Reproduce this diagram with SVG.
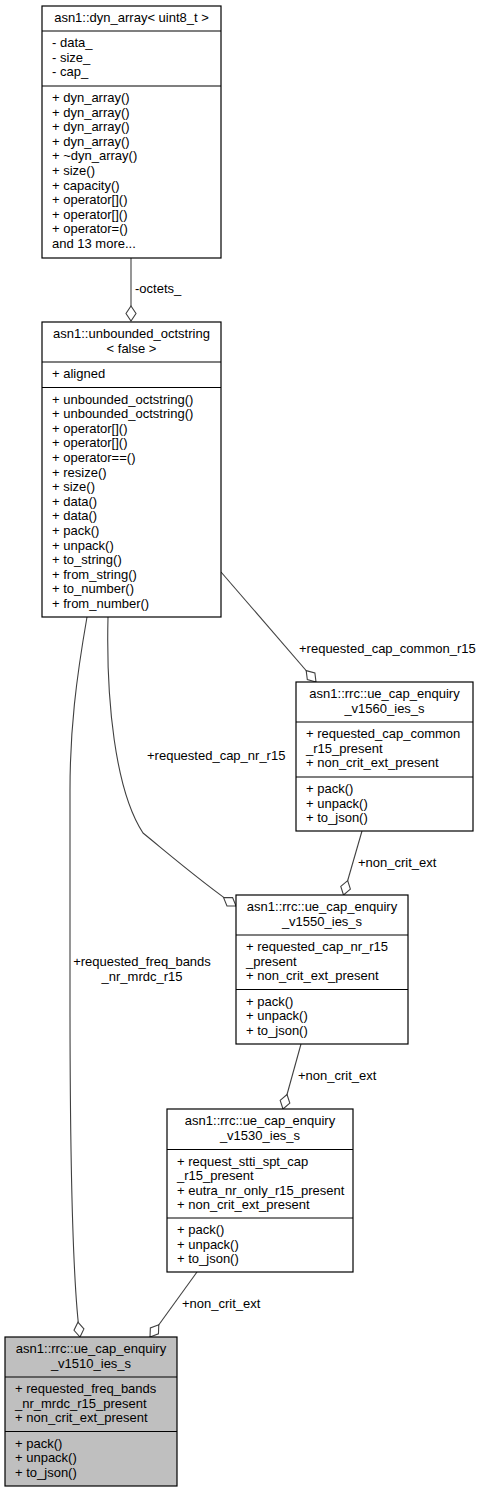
<svg xmlns="http://www.w3.org/2000/svg" width="481" height="1492" viewBox="0 0 481 1492">
<style>
text{font-family:"Liberation Sans",Arial,Helvetica,sans-serif;font-size:13px;fill:#000}
.c{text-anchor:middle}
.box{fill:#fff;stroke:#000;stroke-width:1.2}
.root{fill:#bfbfbf;stroke:#000;stroke-width:1.2}
.div{stroke:#000;stroke-width:1.2}
.edge{fill:none;stroke:#404040;stroke-width:1.1;marker-end:url(#od)}
</style>
<defs>
<marker id="od" markerUnits="userSpaceOnUse" viewBox="-1 -1 17 12" markerWidth="17" markerHeight="12" refX="15" refY="5" orient="auto" overflow="visible">
<path d="M0,5 L7.5,0 L15,5 L7.5,10 Z" fill="#fff" stroke="#404040" stroke-width="1.1"/>
</marker>
</defs>
<rect width="481" height="1492" fill="#fff"/>
<g id="connectors">
<path class="edge" d="M131,258 L131,321"/>
<text x="135" y="293">-octets_</text>
<path class="edge" d="M221,572 L316,682"/>
<text x="299" y="653">+requested_cap_common_r15</text>
<path class="edge" d="M108,617 C106,700 115,790 143,833 C170,855 205,885 236,906"/>
<text x="147" y="760">+requested_cap_nr_r15</text>
<path class="edge" d="M362,831 L343.5,895"/>
<text x="358" y="867">+non_crit_ext</text>
<path class="edge" d="M301,1044 L283,1109"/>
<text x="298" y="1080">+non_crit_ext</text>
<path class="edge" d="M197,1272 L150,1337"/>
<text x="182" y="1308">+non_crit_ext</text>
<path class="edge" d="M87,617 C76,680 70,730 70,790 L70,1000 C70,1150 72,1280 80,1337"/>
<text class="c" x="142" y="966">+requested_freq_bands</text>
<text class="c" x="142" y="981">_nr_mrdc_r15</text>
</g>
<g id="dyn_array">
<rect class="box" x="42" y="6" width="179" height="252"/>
<line class="div" x1="42" y1="31" x2="221" y2="31"/>
<line class="div" x1="42" y1="86" x2="221" y2="86"/>
<text class="c" x="131.5" y="22">asn1::dyn_array&lt; uint8_t &gt;</text>
<text x="52" y="47">- data_</text>
<text x="52" y="61.6">- size_</text>
<text x="52" y="76.2">- cap_</text>
<text x="52" y="102">+ dyn_array()</text>
<text x="52" y="116.6">+ dyn_array()</text>
<text x="52" y="131.2">+ dyn_array()</text>
<text x="52" y="145.8">+ dyn_array()</text>
<text x="52" y="160.4">+ ~dyn_array()</text>
<text x="52" y="175">+ size()</text>
<text x="52" y="189.6">+ capacity()</text>
<text x="52" y="204.2">+ operator[]()</text>
<text x="52" y="218.8">+ operator[]()</text>
<text x="52" y="233.4">+ operator=()</text>
<text x="52" y="248">and 13 more...</text>
</g>
<g id="unbounded_octstring">
<rect class="box" x="42" y="322" width="179" height="295"/>
<line class="div" x1="42" y1="362" x2="221" y2="362"/>
<line class="div" x1="42" y1="387.5" x2="221" y2="387.5"/>
<text class="c" x="131.5" y="338">asn1::unbounded_octstring</text>
<text class="c" x="131.5" y="352.6">&lt; false &gt;</text>
<text x="52" y="378">+ aligned</text>
<text x="52" y="403.5">+ unbounded_octstring()</text>
<text x="52" y="418.1">+ unbounded_octstring()</text>
<text x="52" y="432.7">+ operator[]()</text>
<text x="52" y="447.3">+ operator[]()</text>
<text x="52" y="461.9">+ operator==()</text>
<text x="52" y="476.5">+ resize()</text>
<text x="52" y="491.1">+ size()</text>
<text x="52" y="505.7">+ data()</text>
<text x="52" y="520.3">+ data()</text>
<text x="52" y="534.9">+ pack()</text>
<text x="52" y="549.5">+ unpack()</text>
<text x="52" y="564.1">+ to_string()</text>
<text x="52" y="578.7">+ from_string()</text>
<text x="52" y="593.3">+ to_number()</text>
<text x="52" y="607.9">+ from_number()</text>
</g>
<g id="v1560">
<rect class="box" x="296" y="682" width="177" height="149"/>
<line class="div" x1="296" y1="722" x2="473" y2="722"/>
<line class="div" x1="296" y1="777" x2="473" y2="777"/>
<text class="c" x="384.5" y="698">asn1::rrc::ue_cap_enquiry</text>
<text class="c" x="384.5" y="712.6">_v1560_ies_s</text>
<text x="306" y="738">+ requested_cap_common</text>
<text x="306" y="752.6">_r15_present</text>
<text x="306" y="767.2">+ non_crit_ext_present</text>
<text x="306" y="793">+ pack()</text>
<text x="306" y="807.6">+ unpack()</text>
<text x="306" y="822.2">+ to_json()</text>
</g>
<g id="v1550">
<rect class="box" x="236" y="895" width="172" height="149"/>
<line class="div" x1="236" y1="935" x2="408" y2="935"/>
<line class="div" x1="236" y1="989.5" x2="408" y2="989.5"/>
<text class="c" x="322" y="911">asn1::rrc::ue_cap_enquiry</text>
<text class="c" x="322" y="925.6">_v1550_ies_s</text>
<text x="246" y="951">+ requested_cap_nr_r15</text>
<text x="246" y="965.6">_present</text>
<text x="246" y="980.2">+ non_crit_ext_present</text>
<text x="246" y="1005.5">+ pack()</text>
<text x="246" y="1020.1">+ unpack()</text>
<text x="246" y="1034.7">+ to_json()</text>
</g>
<g id="v1530">
<rect class="box" x="167" y="1109" width="186" height="163"/>
<line class="div" x1="167" y1="1149.5" x2="353" y2="1149.5"/>
<line class="div" x1="167" y1="1218" x2="353" y2="1218"/>
<text class="c" x="260" y="1125">asn1::rrc::ue_cap_enquiry</text>
<text class="c" x="260" y="1139.6">_v1530_ies_s</text>
<text x="177" y="1165.5">+ request_stti_spt_cap</text>
<text x="177" y="1180.1">_r15_present</text>
<text x="177" y="1194.7">+ eutra_nr_only_r15_present</text>
<text x="177" y="1209.3">+ non_crit_ext_present</text>
<text x="177" y="1234">+ pack()</text>
<text x="177" y="1248.6">+ unpack()</text>
<text x="177" y="1263.2">+ to_json()</text>
</g>
<g id="v1510">
<rect class="root" x="5" y="1337" width="172" height="149"/>
<line class="div" x1="5" y1="1377" x2="177" y2="1377"/>
<line class="div" x1="5" y1="1431.5" x2="177" y2="1431.5"/>
<text class="c" x="91" y="1353">asn1::rrc::ue_cap_enquiry</text>
<text class="c" x="91" y="1367.6">_v1510_ies_s</text>
<text x="15" y="1393">+ requested_freq_bands</text>
<text x="15" y="1407.6">_nr_mrdc_r15_present</text>
<text x="15" y="1422.2">+ non_crit_ext_present</text>
<text x="15" y="1447.5">+ pack()</text>
<text x="15" y="1462.1">+ unpack()</text>
<text x="15" y="1476.7">+ to_json()</text>
</g>
</svg>
